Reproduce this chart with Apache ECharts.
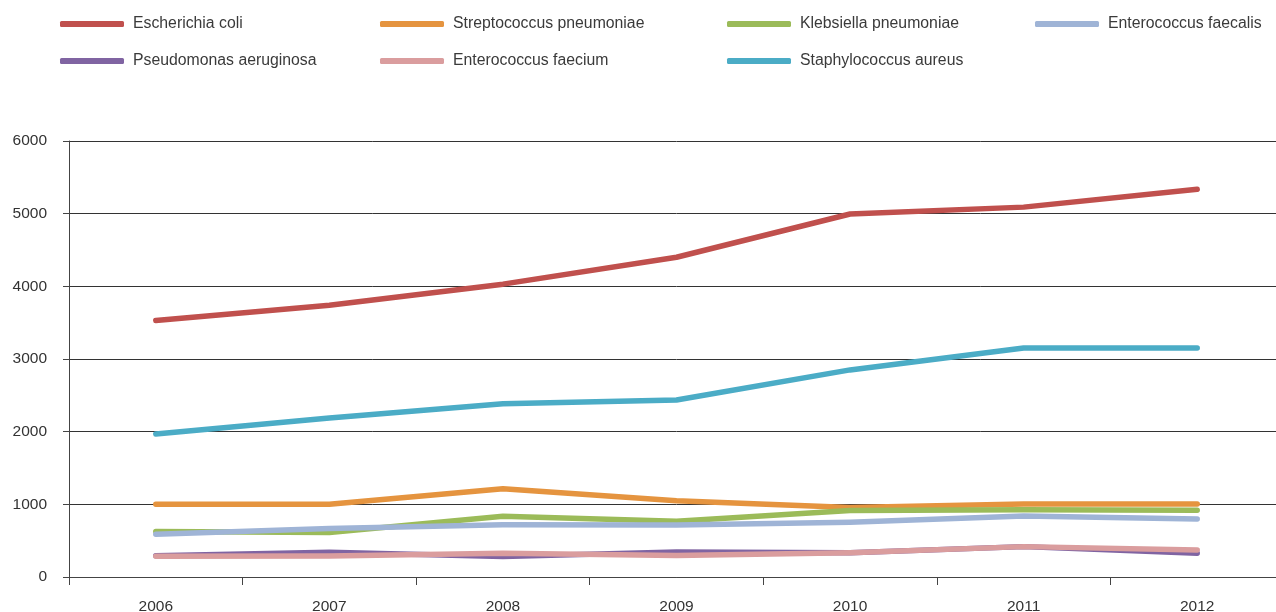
<!DOCTYPE html>
<html>
<head>
<meta charset="utf-8">
<script src="https://cdn.jsdelivr.net/npm/echarts@6/dist/echarts.min.js"></script>
<style>
  html, body { margin: 0; padding: 0; background: #fff; overflow: hidden; }
  #chart { width: 1284px; height: 612px; }
</style>
</head>
<body>
<div id="chart"></div>
<script>
// years on the x axis
var years = ['2006', '2007', '2008', '2009', '2010', '2011', '2012'];

// values
var eColi        = [3530, 3740, 4030, 4400, 4995, 5090, 5335];
var strepPneu    = [1000, 1000, 1215, 1048, 955, 1005, 1005];
var klebPneu     = [625, 612, 835, 768, 915, 925, 920];
var entFaecalis  = [590, 668, 718, 716, 755, 840, 798];
var pseudoAer    = [292, 342, 282, 344, 335, 418, 328];
var entFaecium   = [285, 290, 328, 296, 334, 418, 372];
var staphAureus  = [1968, 2188, 2385, 2436, 2850, 3152, 3152];

var names = ['Escherichia coli', 'Streptococcus pneumoniae', 'Klebsiella pneumoniae',
  'Enterococcus faecalis', 'Pseudomonas aeruginosa', 'Enterococcus faecium', 'Staphylococcus aureus'];
var values = [eColi, strepPneu, klebPneu, entFaecalis, pseudoAer, entFaecium, staphAureus];
var colors = ['#C0504D', '#E5943F', '#9BBB59', '#9FB4D6', '#8064A2', '#DA9D9E', '#4BACC6'];

// legend slots (one legend per entry, placed like the original)
var legendPos = [[60, 16], [380, 16], [727, 16], [1035, 16], [60, 53], [380, 53], [727, 53]];

var font = "'Liberation Sans', Arial, sans-serif";

// the plot runs a little past the right edge of the window, as in the original
var chart = echarts.init(document.getElementById('chart'), null, { renderer: 'canvas' });

var legends = names.map(function (n, i) {
  return {
    data: [n],
    left: legendPos[i][0],
    top: legendPos[i][1],
    padding: 0,
    icon: 'roundRect',
    itemWidth: 64,
    itemHeight: 6,
    itemGap: 0,
    selectedMode: false,
    textStyle: { fontFamily: font, fontSize: 15.8, color: '#3a3a3a', padding: [0, 0, 0, 4] }
  };
});

var series = names.map(function (n, i) {
  return {
    name: n,
    type: 'line',
    data: values[i],
    showSymbol: false,
    symbol: 'none',
    color: colors[i],
    lineStyle: { width: 5.5, color: colors[i], cap: 'round', join: 'round' },
    emphasis: { disabled: true },
    animation: false
  };
});

chart.setOption({
  animation: false,
  legend: legends,
  grid: { left: 69, top: 141, bottom: 35, right: 0, containLabel: false, outerBoundsMode: 'none' },
  xAxis: {
    type: 'category',
    data: years,
    boundaryGap: true,
    axisLine: { lineStyle: { color: '#444', width: 1 } },
    axisTick: { show: true, length: 8, lineStyle: { color: '#444' } },
    axisLabel: { fontFamily: font, fontSize: 15.5, color: '#333', margin: 22 }
  },
  yAxis: {
    type: 'value',
    min: 0,
    max: 6000,
    interval: 1000,
    axisLine: { show: true, lineStyle: { color: '#444', width: 1 } },
    axisTick: { show: true, length: 6, lineStyle: { color: '#444' } },
    axisLabel: {
      fontFamily: font, fontSize: 15.5, color: '#333', margin: 22,
      formatter: function (v) { return String(v); }
    },
    splitLine: { show: true, lineStyle: { color: '#333', width: 1 } }
  },
  series: series
});
</script>
</body>
</html>
